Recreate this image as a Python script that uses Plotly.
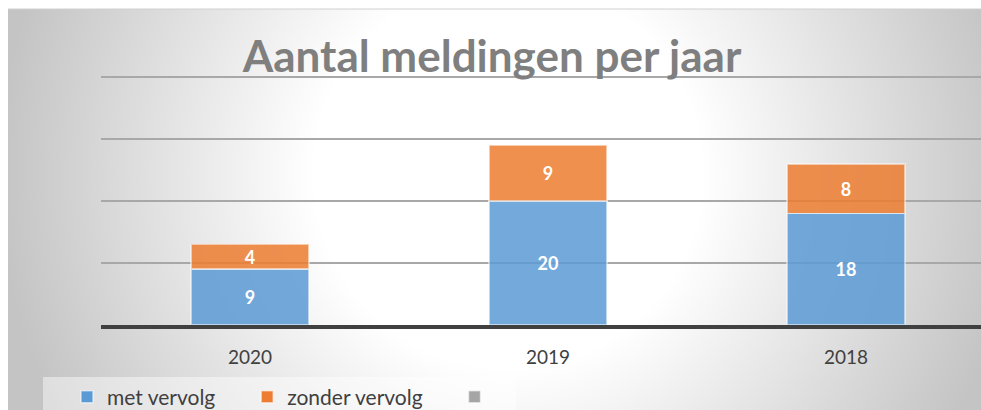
import base64
import plotly.graph_objects as go

# ---- data ----
jaren = ["2020", "2019", "2018"]
met_vervolg = [9, 20, 18]
zonder_vervolg = [4, 9, 8]
overig = [None, None, None]
titel = "Aantal meldingen per jaar"
reeks_namen = ["met vervolg", "zonder vervolg", ""]
reeks_kleuren = ["#5B9BD5", "#ED7D31", "#A5A5A5"]

# ---- layout geometry ----
W, H = 981, 410
ML, MR, MT, MB = 101, 0, 27, 85
PW, PH = W - ML - MR, H - MT - MB


def px_x(px):
    return (px - ML) / PW


def px_y(py):
    return (H - MB - py) / PH


# radial gradient background as an SVG image (extends past the right/bottom edge)
bw_, bh_ = W + 20 - 8, H + 20 - 9
svg = (
    f'<svg xmlns="http://www.w3.org/2000/svg" width="{bw_}" height="{bh_}" '
    f'viewBox="0 0 {bw_} {bh_}" preserveAspectRatio="none">'
    '<defs><radialGradient id="g" gradientUnits="userSpaceOnUse" cx="500" cy="165" r="510">'
    '<stop offset="0" stop-color="#ffffff"/><stop offset="0.38" stop-color="#ffffff"/>'
    '<stop offset="1" stop-color="#c4c4c4"/></radialGradient></defs>'
    f'<rect x="0" y="0" width="{bw_}" height="{bh_}" fill="url(#g)"/></svg>'
)
svg_uri = "data:image/svg+xml;base64," + base64.b64encode(svg.encode()).decode()

NB = "\u00a0"
legend_labels = [reeks_namen[0] + NB * 5, reeks_namen[1] + NB * 5, reeks_namen[2]]

fig = go.Figure()
for naam, label, waarden, kleur in zip(reeks_namen, legend_labels,
                                       [met_vervolg, zonder_vervolg, overig], reeks_kleuren):
    fig.add_trace(go.Bar(
        x=jaren, y=waarden, name=label,
        marker=dict(color=kleur, opacity=0.85,
                    line=dict(color="rgba(255,255,255,0.55)", width=1.5)),
        text=[str(v) if v is not None else "" for v in waarden],
        textposition="inside", insidetextanchor="middle", textangle=0,
        constraintext="none",
        textfont=dict(family="Lato", size=18, color="white", weight="bold"),
        hoverinfo="skip",
    ))

fig.update_layout(
    width=W, height=H,
    margin=dict(l=ML, r=MR, t=MT, b=MB, pad=0, autoexpand=False),
    barmode="stack", bargap=0.604,
    paper_bgcolor="white", plot_bgcolor="rgba(0,0,0,0)",
    uniformtext=dict(minsize=18, mode="show"),
    title=dict(text=titel, x=px_x(492), xanchor="center", xref="paper",
               y=1 - 57 / H, yanchor="middle", yref="container",
               font=dict(family="Lato", size=44, color="#7f7f7f", weight="bold")),
    xaxis=dict(type="category", range=[-0.5, -0.5 + PW / 298],
               showgrid=False, showline=True, linecolor="#404040", linewidth=4,
               ticks="", ticklabelstandoff=12,
               tickfont=dict(family="Lato", size=19, color="#404040"),
               fixedrange=True),
    yaxis=dict(range=[0, PH / 6.2], dtick=10, tick0=0, showticklabels=False,
               showgrid=True, gridcolor="#a8a8a8", gridwidth=1.5,
               zeroline=False, showline=False, fixedrange=True),
    showlegend=True,
    legend=dict(orientation="h", x=px_x(67), xanchor="left",
                y=px_y(397), yanchor="middle", bgcolor="rgba(0,0,0,0)",
                font=dict(family="Lato", size=21, color="#404040"),
                traceorder="normal"),
    images=[dict(source=svg_uri, xref="paper", yref="paper",
                 x=px_x(8), y=px_y(9), sizex=bw_ / PW, sizey=bh_ / PH,
                 xanchor="left", yanchor="top", sizing="stretch", layer="below")],
    shapes=[
        dict(type="rect", xref="paper", yref="paper", layer="below",
             x0=px_x(43), x1=px_x(516), y0=px_y(377), y1=px_y(H + 5),
             fillcolor="rgba(255,255,255,0.45)", line=dict(width=0)),
        dict(type="line", xref="paper", yref="paper", layer="below",
             x0=px_x(8), x1=px_x(W + 10), y0=px_y(9), y1=px_y(9),
             line=dict(color="#d0d0d0", width=1)),
    ],
)

fig.write_html("out.html",
               config={"displayModeBar": False},
               post_script="document.body.style.margin='0';document.body.style.overflow='hidden';")
